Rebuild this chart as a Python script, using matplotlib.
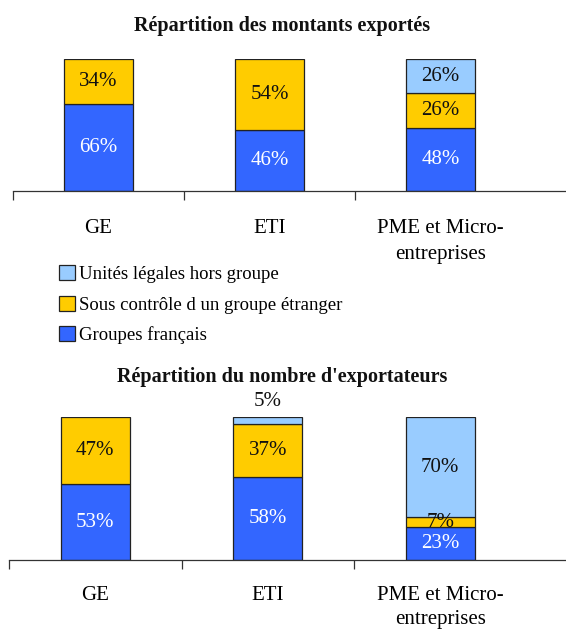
import numpy as np
import matplotlib
matplotlib.use("Agg")
import matplotlib.pyplot as plt
from matplotlib.patches import Patch

plt.rcParams['font.family'] = ['Liberation Serif', 'DejaVu Serif']

# data
categories = ["GE", "ETI", "PME et Micro-\nentreprises"]
series_names = ["Groupes français", "Sous contrôle d un groupe étranger", "Unités légales hors groupe"]
colors = ["#3366FF", "#FFCC00", "#99CCFF"]
text_colors = ["white", "#111111", "#111111"]

# Répartition des montants exportés (%)
montants_fr = [66, 46, 48]
montants_etr = [34, 54, 26]
montants_hors = [0, 0, 26]

# Répartition du nombre d'exportateurs (%)
nombre_fr = [53, 58, 23]
nombre_etr = [47, 37, 7]
nombre_hors = [0, 5, 70]

W, H = 566, 631
fig = plt.figure(figsize=(W / 100, H / 100), dpi=100)


def draw_panel(rect, series, xmax, title, title_y, pad, lsp):
    ax = fig.add_axes(rect)
    x = np.arange(len(categories))
    bottom = np.zeros(len(categories))
    for k, vals in enumerate(series):
        vals = np.array(vals, dtype=float)
        mask = vals > 0
        ax.bar(x[mask], vals[mask], 0.40, bottom=bottom[mask], color=colors[k],
               edgecolor="#222222", linewidth=0.9, zorder=2)
        for i in np.where(mask)[0]:
            v = vals[i]
            if v < 6:
                # small slice: label above the bar
                ax.annotate(f"{int(v)}%", (x[i], bottom[i] + v), xytext=(0, 4),
                            textcoords="offset points", ha="center", va="bottom",
                            fontsize=15, color="#111111", annotation_clip=False)
            else:
                ax.text(x[i], bottom[i] + v / 2, f"{int(v)}%", ha="center", va="center",
                        fontsize=15, color=text_colors[k], zorder=3)
        bottom = bottom + vals
    ax.set_ylim(0, 100)
    ax.set_xlim(-0.5, xmax)
    for s in ["left", "right", "top"]:
        ax.spines[s].set_visible(False)
    ax.spines["bottom"].set_linewidth(0.9)
    ax.spines["bottom"].set_color("#333333")
    ax.set_yticks([])
    ax.set_xticks([-0.5, 0.5, 1.5])
    ax.set_xticklabels([])
    ax.tick_params(axis="x", which="major", direction="out", length=6.5, width=0.9, color="#333333")
    ax.set_xticks(x, minor=True)
    ax.set_xticklabels(categories, minor=True, fontsize=15, linespacing=lsp)
    ax.tick_params(axis="x", which="minor", length=0, pad=pad)
    for lbl in ax.get_xticklabels(minor=True):
        lbl.set_verticalalignment("top")
    fig.text(282 / W, 1 - title_y / H, title, ha="center", va="center",
             fontsize=14.5, fontweight="bold", color="#111111")
    return ax


draw_panel([13 / W, 1 - 191 / H, 553 / W, 132 / H],
           [montants_fr, montants_etr, montants_hors],
           -0.5 + 553 / 171, "Répartition des montants exportés", 25.5, 20.5, 1.5)

draw_panel([9 / W, 1 - 560 / H, 557 / W, 143 / H],
           [nombre_fr, nombre_etr, nombre_hors],
           -0.5 + 557 / 172.5, "Répartition du nombre d'exportateurs", 377, 19, 1.3)

handles = [Patch(facecolor=colors[k], edgecolor="#222222", linewidth=0.9, label=series_names[k])
           for k in [2, 1, 0]]
fig.legend(handles=handles, loc="upper left", bbox_to_anchor=(59 / W, 1 - 265 / H),
           frameon=False, fontsize=13.5, handlelength=0.85, handleheight=0.85,
           handletextpad=0.2, labelspacing=0.68, borderaxespad=0, borderpad=0)

fig.savefig("out.png", dpi=100)
